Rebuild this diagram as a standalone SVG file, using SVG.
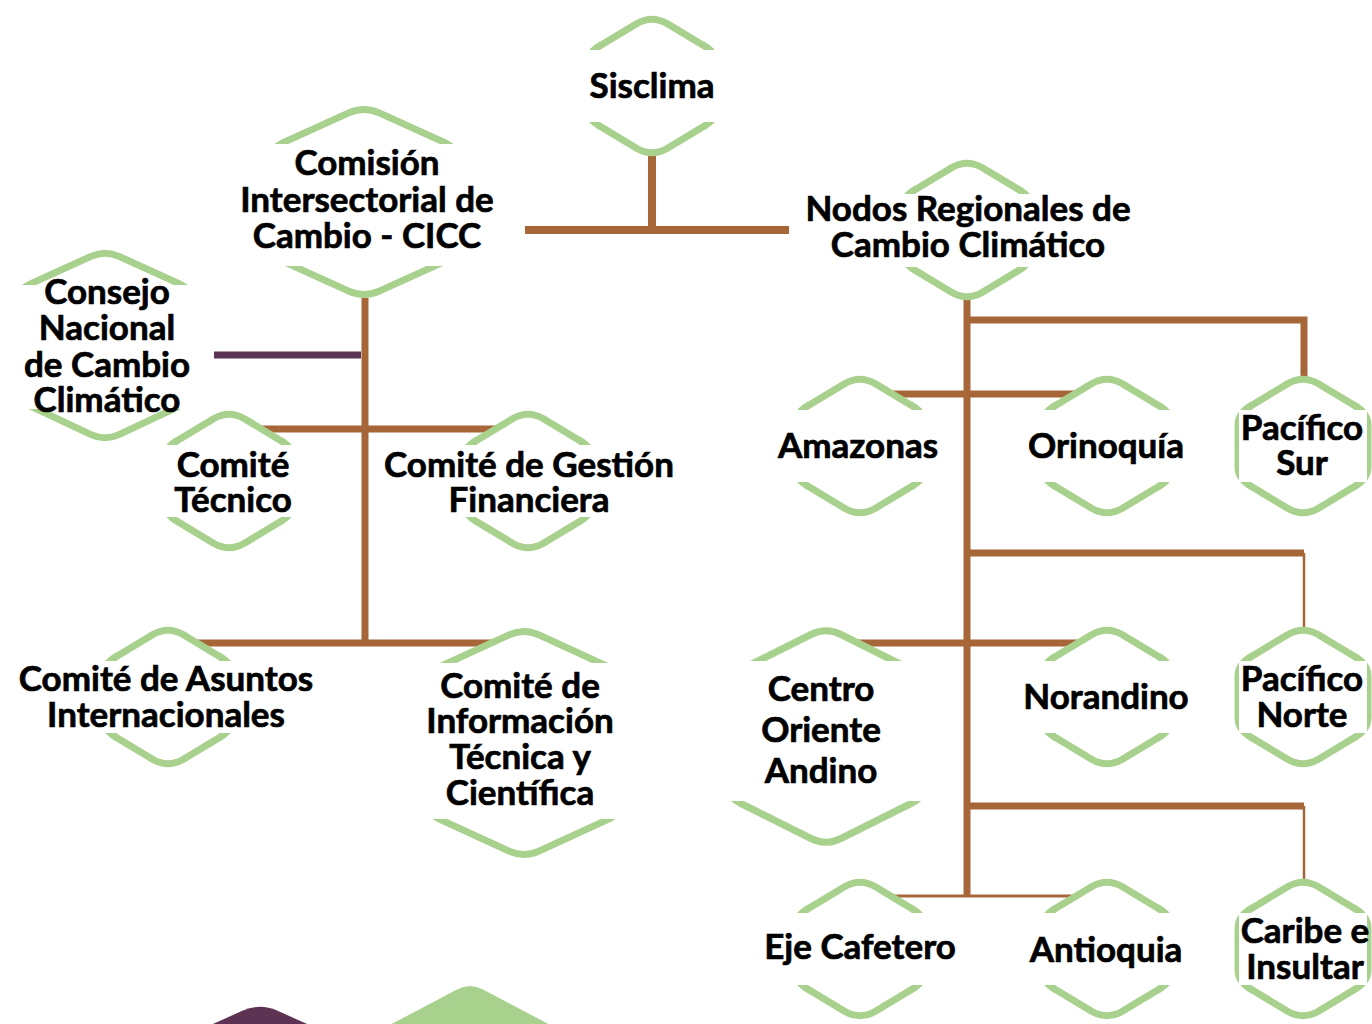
<svg xmlns="http://www.w3.org/2000/svg" xmlns:xlink="http://www.w3.org/1999/xlink" width="1372" height="1024" viewBox="0 0 1372 1024">
<style>
.hex{fill:#ffffff;stroke:#a9d18e;stroke-width:7;stroke-linejoin:round}
.mask{fill:#ffffff}
.lbl{font-family:Lato,"Liberation Sans",sans-serif;font-weight:700;font-size:35px;fill:#000000;stroke:#000000;stroke-width:0.7px;text-anchor:middle}
.con{fill:none;stroke:#a66637;stroke-width:7;stroke-linejoin:miter;stroke-linecap:butt}
.thin{fill:none;stroke:#a66637;stroke-width:2.5}
</style>
<defs>
<path id="hex" class="hex" d="M -15,-62.5 Q 0,-71 15,-62.5 L 50.7,-41.1 Q 65,-33 65,-21 L 65,21 Q 65,33 50.7,41.1 L 15,62.5 Q 0,71 -15,62.5 L -50.7,41.1 Q -65,33 -65,21 L -65,-21 Q -65,-33 -50.7,-41.1 Z"/>
</defs>
<rect width="1372" height="1024" fill="#ffffff"/>
<g id="connectors">
<line class="con" x1="652" y1="156" x2="652" y2="230" style="stroke-width:8"/>
<line class="con" x1="525" y1="230" x2="789" y2="230" style="stroke-width:8"/>
<line class="con" x1="365" y1="298" x2="365" y2="646"/>
<line x1="214" y1="355" x2="361" y2="355" stroke="#5d3354" stroke-width="7"/>
<line class="con" x1="229" y1="429" x2="528" y2="429"/>
<line class="con" x1="168" y1="643" x2="524" y2="643"/>
<line class="con" x1="967" y1="300" x2="967" y2="896"/>
<polyline class="con" points="967,320 1304,320 1304,378"/>
<line class="con" x1="860" y1="394" x2="1107" y2="394"/>
<line class="con" x1="967" y1="553" x2="1304" y2="553"/>
<line class="thin" x1="1304" y1="553" x2="1304" y2="628"/>
<line class="con" x1="826" y1="643" x2="1107" y2="643"/>
<line class="con" x1="967" y1="806" x2="1304" y2="806"/>
<line class="thin" x1="1304" y1="806" x2="1304" y2="880"/>
<line class="thin" x1="860" y1="896" x2="1107" y2="896" style="stroke-width:3"/>
</g>
<g id="sisclima">
<use xlink:href="#hex" href="#hex" transform="translate(652,86)"/>
<rect class="mask" x="578" y="50" width="148" height="72"/>
<text class="lbl" x="652" y="98">Sisclima</text>
</g>
<g id="cicc">
<path class="hex" d="M 348.8,112.9 Q 364,106 379.2,112.9 L 443.8,142.1 Q 459,149 459,161 L 459,243 Q 459,255 443.8,261.9 L 379.2,291.1 Q 364,298 348.8,291.1 L 284.2,261.9 Q 269,255 269,243 L 269,161 Q 269,149 284.2,142.1 Z"/>
<rect class="mask" x="232" y="144" width="268" height="122"/>
<text class="lbl" x="367" y="175">Comisión</text>
<text class="lbl" x="367" y="212">Intersectorial de</text>
<text class="lbl" x="367" y="248">Cambio - CICC</text>
</g>
<g id="nodos">
<use xlink:href="#hex" href="#hex" transform="translate(967,230)"/>
<rect class="mask" x="800" y="194" width="336" height="73"/>
<text class="lbl" x="968" y="221">Nodos Regionales de</text>
<text class="lbl" x="968" y="257">Cambio Climático</text>
</g>
<g id="consejo">
<path class="hex" d="M 91,256.4 Q 105,250 119,256.4 L 179,283.6 Q 193,290 193,302 L 193,388 Q 193,400 179,406.4 L 119,434.6 Q 105,441 91,434.6 L 31,406.4 Q 17,400 17,388 L 17,302 Q 17,290 31,283.6 Z"/>
<rect class="mask" x="0" y="285" width="205" height="124"/>
<text class="lbl" x="107" y="304">Consejo</text>
<text class="lbl" x="107" y="340">Nacional</text>
<text class="lbl" x="107" y="377">de Cambio</text>
<text class="lbl" x="107" y="412">Climático</text>
</g>
<g id="comite-tecnico">
<use xlink:href="#hex" href="#hex" transform="translate(229,481)"/>
<rect class="mask" x="160" y="445" width="138" height="72"/>
<text class="lbl" x="233" y="477">Comité</text>
<text class="lbl" x="233" y="512">Técnico</text>
</g>
<g id="comite-gestion">
<use xlink:href="#hex" href="#hex" transform="translate(528,481)"/>
<rect class="mask" x="380" y="445" width="298" height="72"/>
<text class="lbl" x="529" y="477">Comité de Gestión</text>
<text class="lbl" x="529" y="512">Financiera</text>
</g>
<g id="comite-asuntos">
<use xlink:href="#hex" href="#hex" transform="translate(168,697)"/>
<rect class="mask" x="15" y="661" width="303" height="72"/>
<text class="lbl" x="166" y="691">Comité de Asuntos</text>
<text class="lbl" x="166" y="727">Internacionales</text>
</g>
<g id="comite-informacion">
<path class="hex" d="M 509,634.9 Q 524,628 539,634.9 L 607,666.1 Q 622,673 622,685 L 622,801 Q 622,813 607,819.9 L 539,851.1 Q 524,858 509,851.1 L 441,819.9 Q 426,813 426,801 L 426,685 Q 426,673 441,666.1 Z"/>
<rect class="mask" x="415" y="663" width="215" height="156"/>
<text class="lbl" x="520" y="698">Comité de</text>
<text class="lbl" x="520" y="733">Información</text>
<text class="lbl" x="520" y="769">Técnica y</text>
<text class="lbl" x="520" y="805">Científica</text>
</g>
<g id="amazonas">
<use xlink:href="#hex" href="#hex" transform="translate(860,446)"/>
<rect class="mask" x="775" y="410" width="170" height="72"/>
<text class="lbl" x="858" y="458">Amazonas</text>
</g>
<g id="orinoquia">
<use xlink:href="#hex" href="#hex" transform="translate(1107,446)"/>
<rect class="mask" x="1025" y="410" width="165" height="72"/>
<text class="lbl" x="1106" y="458">Orinoquía</text>
</g>
<g id="pacifico-sur">
<use xlink:href="#hex" href="#hex" transform="translate(1303,446)"/>
<rect class="mask" x="1239" y="410" width="128" height="72"/>
<text class="lbl" x="1302" y="440">Pacífico</text>
<text class="lbl" x="1302" y="475">Sur</text>
</g>
<g id="centro-oriente-andino">
<path class="hex" d="M 811,634.5 Q 826,627 841,634.5 L 911,669.5 Q 926,677 926,689 L 926,784 Q 926,796 911,803.5 L 841,838.5 Q 826,846 811,838.5 L 741,803.5 Q 726,796 726,784 L 726,689 Q 726,677 741,669.5 Z"/>
<rect class="mask" x="715" y="661" width="220" height="140"/>
<text class="lbl" x="821" y="701">Centro</text>
<text class="lbl" x="821" y="742">Oriente</text>
<text class="lbl" x="821" y="783">Andino</text>
</g>
<g id="norandino">
<use xlink:href="#hex" href="#hex" transform="translate(1107,697)"/>
<rect class="mask" x="1020" y="661" width="175" height="72"/>
<text class="lbl" x="1106" y="709">Norandino</text>
</g>
<g id="pacifico-norte">
<use xlink:href="#hex" href="#hex" transform="translate(1303,697)"/>
<rect class="mask" x="1239" y="661" width="128" height="72"/>
<text class="lbl" x="1302" y="691">Pacífico</text>
<text class="lbl" x="1302" y="727">Norte</text>
</g>
<g id="eje-cafetero">
<use xlink:href="#hex" href="#hex" transform="translate(860,949)"/>
<rect class="mask" x="760" y="913" width="200" height="72"/>
<text class="lbl" x="860" y="959">Eje Cafetero</text>
</g>
<g id="antioquia">
<use xlink:href="#hex" href="#hex" transform="translate(1107,949)"/>
<rect class="mask" x="1025" y="913" width="165" height="72"/>
<text class="lbl" x="1106" y="962">Antioquia</text>
</g>
<g id="caribe-insular">
<use xlink:href="#hex" href="#hex" transform="translate(1303,949)"/>
<rect class="mask" x="1239" y="913" width="128" height="72"/>
<text class="lbl" x="1305" y="943">Caribe e</text>
<text class="lbl" x="1305" y="979">Insultar</text>
</g>
<g id="partial-shapes">
<path d="M 204,1028 L 243,1010.5 Q 260,1003 277,1010.5 L 316,1028 Z" fill="#5d3354"/>
<path d="M 384,1028 L 457,989.5 Q 470,982.5 483,989.5 L 556,1028 Z" fill="#a9d18e"/>
</g>
</svg>
